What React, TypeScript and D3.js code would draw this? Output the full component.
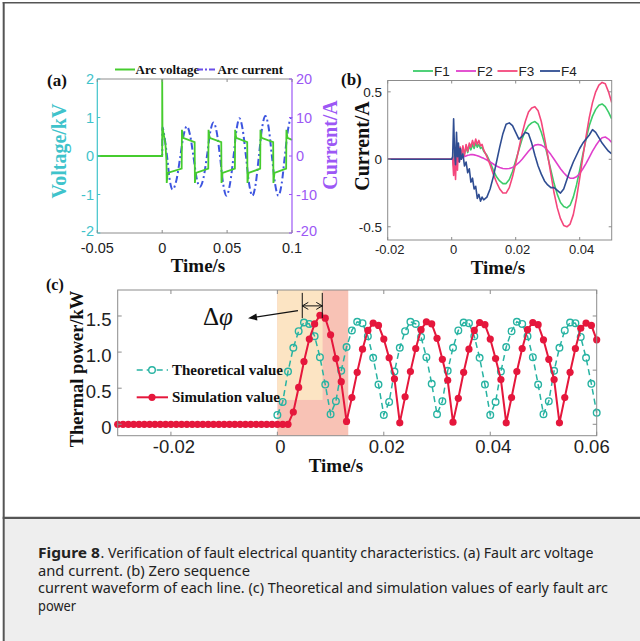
import React from "react";
import * as d3 from "d3";

const W = 640;
const H = 641;
const SERIF = "'Liberation Serif', 'Times New Roman', serif";
const SANS = "'Liberation Sans', Arial, sans-serif";
const CAPFONT = "'Noto Sans', 'Open Sans', sans-serif";

// ---------------- Panel (a) data ----------------
const A_X_TICKS = [-0.05, 0, 0.05, 0.1];
const A_X_LABELS = ["-0.05", "0", "0.05", "0.1"];
const A_VL_TICKS = [-2, -1, 0, 1, 2];
const A_IR_TICKS = [-20, -10, 0, 10, 20];
// arc voltage (ms, kV)
const A_VOLT_T = [-50, 0, 0, 0.2, 2.5, 3.3, 3.5, 4.2, 15.0, 15.2, 16.0, 25.0, 25.2, 26.0, 35.5, 35.7, 36.5, 45.5, 45.7, 46.5, 56.0, 56.2, 57.0, 65.5, 65.7, 66.5, 75.5, 75.7, 76.5, 85.5, 85.7, 86.5, 95.5, 95.7, 96.5, 100];
const A_VOLT_V = [0, 0, 2.0, 0.75, 0.3, -0.15, -0.7, -0.44, -0.33, 0.68, 0.47, 0.36, -0.7, -0.44, -0.33, 0.68, 0.47, 0.36, -0.7, -0.44, -0.33, 0.68, 0.47, 0.36, -0.7, -0.44, -0.33, 0.68, 0.47, 0.36, -0.7, -0.44, -0.33, 0.68, 0.47, 0.42];
// arc current (ms, A)
const A_CURR_T = [-50, 0, 0.2, 1.5, 3.7, 5.8, 8, 11, 14, 16.5, 19, 21.5, 24, 26.5, 29, 31.8, 34.5, 37, 39.5, 42, 44.5, 47, 49.5, 52.2, 55, 57.3, 59.5, 62, 64.5, 67, 69.5, 72, 74.5, 77, 79.5, 82, 84.5, 87, 89.5, 92, 94.5, 97, 99.5, 100];
const A_CURR_V = [0, 0, 7.5, 5.5, 0, -6.2, -8.7, -6.2, 0, 5.4, 7.7, 5.4, 0, -5.7, -8.0, -5.7, 0, 6.2, 8.7, 6.2, 0, -7.3, -10.3, -7.3, 0, 6.9, 9.8, 6.9, 0, -7.3, -10.3, -7.3, 0, 7.4, 10.4, 7.4, 0, -7.3, -10.3, -7.3, 0, 7.0, 9.9, 9.8];

// ---------------- Panel (b) data ----------------
const B_X_TICKS = [-0.02, 0, 0.02, 0.04];
const B_X_LABELS = ["-0.02", "0", "0.02", "0.04"];
const B_Y_TICKS = [-0.5, 0, 0.5];
const B_Y_LABELS = ["-0.5", "0", "0.5"];
const B_NAMES = ["F1", "F2", "F3", "F4"];
const B_COLORS = ["#3dcc6a", "#e040cc", "#f4477c", "#2f4d92"];
const B_T_MS = [-20, 0, 0.3, 0.6, 0.9, 1.2, 1.5, 1.8, 2.1, 2.4, 2.7, 3.0, 3.5, 4, 4.5, 5, 5.5, 6, 6.5, 7, 7.5, 8, 8.5, 9, 9.5, 10,
  11, 12, 13, 14, 15, 16, 17, 18, 19, 20, 21, 22, 23, 24, 25, 26, 27, 28, 29, 30, 31, 32, 33, 34, 35, 36, 37, 38, 39, 40, 41, 42, 43, 44, 45, 46, 47, 48, 49, 50];
const F1 = [0, 0, 0.0, -0.05, 0.06, -0.03, 0.08, 0.0, 0.09, 0.02, 0.08, 0.03, 0.08, 0.04, 0.09, 0.05, 0.1, 0.07, 0.11, 0.08, 0.12, 0.09, 0.11, 0.08, 0.09, 0.06,
  0.03, -0.02, -0.08, -0.13, -0.16, -0.18, -0.18, -0.15, -0.09, -0.01, 0.07, 0.15, 0.21, 0.25, 0.27, 0.28, 0.26, 0.20, 0.12, 0.02, -0.08, -0.18, -0.26, -0.32, -0.35, -0.36, -0.34, -0.28, -0.19, -0.08, 0.04, 0.15, 0.25, 0.32, 0.37, 0.40, 0.41, 0.39, 0.35, 0.30];
const F2 = [0, 0, 0.0, -0.03, 0.02, -0.02, 0.01, -0.01, 0.01, 0.0, 0.01, 0.01, 0.015, 0.02, 0.025, 0.03, 0.032, 0.035, 0.035, 0.033, 0.03, 0.027, 0.022, 0.017, 0.012, 0.007,
  -0.005, -0.02, -0.035, -0.05, -0.06, -0.068, -0.07, -0.068, -0.06, -0.045, -0.025, 0.0, 0.03, 0.06, 0.085, 0.105, 0.11, 0.105, 0.09, 0.065, 0.035, 0.0, -0.035, -0.07, -0.1, -0.125, -0.14, -0.14, -0.13, -0.105, -0.07, -0.03, 0.015, 0.06, 0.1, 0.135, 0.16, 0.165, 0.15, 0.125];
const F3 = [0, 0, 0.0, -0.12, 0.05, -0.15, 0.07, -0.08, 0.10, -0.02, 0.09, 0.0, 0.10, 0.03, 0.11, 0.06, 0.12, 0.09, 0.14, 0.10, 0.15, 0.11, 0.14, 0.10, 0.11, 0.07,
  0.02, -0.04, -0.11, -0.17, -0.22, -0.25, -0.25, -0.21, -0.13, -0.03, 0.08, 0.19, 0.28, 0.35, 0.38, 0.39, 0.36, 0.28, 0.16, 0.03, -0.11, -0.25, -0.36, -0.44, -0.49, -0.50, -0.48, -0.41, -0.29, -0.14, 0.02, 0.17, 0.31, 0.42, 0.50, 0.55, 0.57, 0.56, 0.50, 0.42];
const F4 = [0, 0, 0.02, 0.30, 0.05, -0.04, 0.20, 0.02, 0.12, -0.02, 0.08, 0.0, 0.04, -0.05, -0.02, -0.10, -0.07, -0.17, -0.14, -0.22, -0.20, -0.29, -0.26, -0.31, -0.28, -0.30,
  -0.28, -0.22, -0.13, -0.02, 0.09, 0.19, 0.26, 0.27, 0.25, 0.20, 0.15, 0.17, 0.20, 0.19, 0.12, 0.03, -0.05, -0.11, -0.16, -0.19, -0.21, -0.21, -0.23, -0.25, -0.22, -0.15, -0.08, -0.02, 0.03, 0.08, 0.12, 0.15, 0.18, 0.22, 0.20, 0.16, 0.12, 0.09, 0.06, 0.04];
const B_SERIES = [F1, F2, F3, F4];

// ---------------- Panel (c) data ----------------
const C_X_TICKS = [-0.02, 0, 0.02, 0.04, 0.06];
const C_X_LABELS = ["-0.02", "0", "0.02", "0.04", "0.06"];
const C_Y_TICKS = [0, 0.5, 1.0, 1.5];
const C_Y_LABELS = ["0", "0.5", "1.0", "1.5"];
const C_YR_TICKS = [0, 0.75, 1.5];
const SAMPLE_MS = 1;
const SIM_START_MS = -30;
const SIM_POWER = [
  0, 0, 0, 0, 0, 0, 0, 0, 0, 0, 0, 0, 0, 0, 0, 0, 0, 0, 0, 0, 0, 0, 0, 0, 0, 0, 0, 0, 0, 0, 0, 0, 0,
  0.17, 0.51, 0.87, 1.18, 1.39, 1.51, 1.47, 1.24, 0.91, 0.59,
  0.04, 0.37, 0.72, 1.04, 1.30, 1.40, 1.37, 1.18, 0.92, 0.63,
  0.02, 0.38, 0.73, 1.05, 1.31, 1.42, 1.39, 1.19, 0.90, 0.61,
  0.03, 0.36, 0.72, 1.04, 1.30, 1.41, 1.38, 1.18, 0.91, 0.62,
  0.02, 0.37, 0.73, 1.05, 1.31, 1.41, 1.38, 1.17, 0.90, 0.62,
  0.02, 0.37, 0.72, 1.05, 1.33, 1.40, 1.37, 1.17];
const THEO_START_MS = 0;
const THEO_POWER = [
  0.13, 0.31, 0.73, 1.06, 1.29, 1.41, 1.39, 1.22, 0.93, 0.55,
  0.14, 0.32, 0.74, 1.07, 1.30, 1.42, 1.40, 1.22, 0.92, 0.55,
  0.13, 0.31, 0.73, 1.06, 1.29, 1.42, 1.39, 1.21, 0.93, 0.56,
  0.14, 0.32, 0.74, 1.06, 1.30, 1.41, 1.40, 1.22, 0.92, 0.55,
  0.13, 0.31, 0.73, 1.07, 1.29, 1.42, 1.39, 1.22, 0.93, 0.55,
  0.14, 0.32, 0.74, 1.06, 1.30, 1.41, 1.40, 1.21, 0.92, 0.56,
  0.16];

const CAPTION_BOLD = "Figure 8";
const CAPTION_LINES = [
  ". Verification of fault electrical quantity characteristics. (a) Fault arc voltage",
  "and current. (b) Zero sequence",
  "current waveform of each line. (c) Theoretical and simulation values of early fault arc",
  "power",
];
const CAPTION_WIDTHS = [493, 212, 570, 38];

// ---------------- colours ----------------
const CYAN = "#3fc3cb";
const PURPLE = "#9c58f5";
const GREEN_A = "#46cc2e";
const BLUE_A = "#3d55e0";
const TEAL = "#27b3a2";
const RED = "#e5173c";
const BOX = "#8c8c8c";

function PanelA() {
  const L = 97.3, R = 292, T = 79, B = 233;
  const x = d3.scaleLinear().domain([-0.05, 0.1]).range([L, R]);
  const yl = d3.scaleLinear().domain([-2, 2]).range([B, T]);
  const yr = d3.scaleLinear().domain([-20, 20]).range([B, T]);
  const volt = A_VOLT_T.map((t, i) => [t / 1000, A_VOLT_V[i]] as [number, number]);
  const curr = A_CURR_T.map((t, i) => [t / 1000, A_CURR_V[i]] as [number, number]);
  const lineV = d3.line<[number, number]>().x(d => x(d[0])).y(d => yl(d[1]));
  const lineI = d3.line<[number, number]>().x(d => x(d[0])).y(d => yr(d[1])).curve(d3.curveMonotoneX);
  const tk = 3;
  return (
    <g>
      <rect x={L} y={T} width={R - L} height={B - T} fill="#fff" />
      <path d={lineI(curr) || ""} fill="none" stroke={BLUE_A} strokeWidth={2} strokeDasharray="7,3,2,3" />
      <path d={lineV(volt) || ""} fill="none" stroke={GREEN_A} strokeWidth={1.8} />
      <line x1={L} x2={R} y1={T} y2={T} stroke={BOX} strokeWidth={1} />
      <line x1={L} x2={R} y1={B} y2={B} stroke={BOX} strokeWidth={1} />
      <line x1={L} x2={L} y1={T} y2={B} stroke={CYAN} strokeWidth={1.2} />
      <line x1={R} x2={R} y1={T} y2={B} stroke={PURPLE} strokeWidth={1.2} />
      {A_X_TICKS.map((v, i) => (
        <g key={"ax" + i}>
          <line x1={x(v)} x2={x(v)} y1={B} y2={B - tk} stroke={BOX} />
          <line x1={x(v)} x2={x(v)} y1={T} y2={T + tk} stroke={BOX} />
          <text x={x(v)} y={252.5} textAnchor="middle" fontFamily={SANS} fontSize={14.5} fill="#222">{A_X_LABELS[i]}</text>
        </g>
      ))}
      {A_VL_TICKS.map((v, i) => (
        <g key={"al" + i}>
          <line x1={L} x2={L + tk} y1={yl(v)} y2={yl(v)} stroke={CYAN} />
          <text x={94} y={yl(v) + (v === -2 ? 3 : 5)} textAnchor="end" fontFamily={SANS} fontSize={14.5} fill={CYAN}>{v}</text>
        </g>
      ))}
      {A_IR_TICKS.map((v, i) => (
        <g key={"ar" + i}>
          <line x1={R} x2={R - tk} y1={yr(v)} y2={yr(v)} stroke={PURPLE} />
          <text x={296} y={yr(v) + (v === -20 ? 3 : 5)} textAnchor="start" fontFamily={SANS} fontSize={14.5} fill={PURPLE}>{v}</text>
        </g>
      ))}
      <line x1={115} x2={135} y1={69.5} y2={69.5} stroke={GREEN_A} strokeWidth={2} />
      <text x={135.5} y={73.5} fontFamily={SERIF} fontWeight="bold" fontSize={13} fill="#111">Arc voltage</text>
      <line x1={197} x2={217} y1={69.5} y2={69.5} stroke="#6a4fe8" strokeWidth={2} strokeDasharray="6,2,2,2" />
      <text x={217.5} y={73.5} fontFamily={SERIF} fontWeight="bold" fontSize={13} fill="#111">Arc current</text>
      <text x={47} y={86} fontFamily={SERIF} fontWeight="bold" fontSize={17} fill="#111">(a)</text>
      <text transform="translate(66,151) rotate(-90)" textAnchor="middle" fontFamily={SERIF} fontWeight="bold" fontSize={20} fill={CYAN}>Voltage/kV</text>
      <text transform="translate(337,145) rotate(-90)" textAnchor="middle" fontFamily={SERIF} fontWeight="bold" fontSize={20} fill={PURPLE}>Current/A</text>
      <text x={198} y={272} textAnchor="middle" fontFamily={SERIF} fontWeight="bold" fontSize={19} fill="#111">Time/s</text>
    </g>
  );
}

function PanelB() {
  const L = 387.7, R = 611.7, T = 80.5, B = 240;
  const x = d3.scaleLinear().domain([-0.02, 0.05]).range([L, R]);
  const y = d3.scaleLinear().domain([-0.598, 0.584]).range([B, T]);
  const line = d3.line<[number, number]>().x(d => x(d[0])).y(d => y(d[1]));
  const tk = 3;
  const legX = [413, 456, 497.5, 540];
  return (
    <g>
      <rect x={L} y={T} width={R - L} height={B - T} fill="#fff" />
      <defs>
        <clipPath id="clipB"><rect x={L} y={T - 2} width={R - L} height={B - T + 4} /></clipPath>
      </defs>
      <g clipPath="url(#clipB)">
        {B_SERIES.map((s, k) => (
          <path key={k} d={line(B_T_MS.map((t, i) => [t / 1000, s[i]] as [number, number])) || ""} fill="none" stroke={B_COLORS[k]} strokeWidth={1.6} strokeLinejoin="round" />
        ))}
      </g>
      <rect x={L} y={T} width={R - L} height={B - T} fill="none" stroke={BOX} strokeWidth={1} />
      {B_X_TICKS.map((v, i) => (
        <g key={"bx" + i}>
          <line x1={x(v)} x2={x(v)} y1={B} y2={B - tk} stroke={BOX} />
          <line x1={x(v)} x2={x(v)} y1={T} y2={T + tk} stroke={BOX} />
          <text x={x(v) + 2} y={253.5} textAnchor="middle" fontFamily={SANS} fontSize={13} fill="#222">{B_X_LABELS[i]}</text>
        </g>
      ))}
      {B_Y_TICKS.map((v, i) => (
        <g key={"by" + i}>
          <line x1={L} x2={L + tk} y1={y(v)} y2={y(v)} stroke={BOX} />
          <line x1={R} x2={R - tk} y1={y(v)} y2={y(v)} stroke={BOX} />
          <text x={382} y={y(v) + 5} textAnchor="end" fontFamily={SANS} fontSize={13.5} fill="#222">{B_Y_LABELS[i]}</text>
        </g>
      ))}
      {B_NAMES.map((n, k) => (
        <g key={"bl" + k}>
          <line x1={legX[k]} x2={legX[k] + 20} y1={71} y2={71} stroke={B_COLORS[k]} strokeWidth={1.8} />
          <text x={legX[k] + 21} y={76} fontFamily={SANS} fontSize={13.5} fill="#222">{n}</text>
        </g>
      ))}
      <text x={341} y={85} fontFamily={SERIF} fontWeight="bold" fontSize={17} fill="#111">(b)</text>
      <text transform="translate(369,146) rotate(-90)" textAnchor="middle" fontFamily={SERIF} fontWeight="bold" fontSize={20} fill="#111">Current/A</text>
      <text x={498} y={274} textAnchor="middle" fontFamily={SERIF} fontWeight="bold" fontSize={19} fill="#111">Time/s</text>
    </g>
  );
}

function PanelC() {
  const L = 117.7, R = 596.7, T = 290, B = 435.7;
  const x = d3.scaleLinear().domain([-0.03, 0.06]).range([L, R]);
  const y = d3.scaleLinear().domain([-0.158, 1.86]).range([B, T]);
  const sim = SIM_POWER.map((v, i) => [(SIM_START_MS + i * SAMPLE_MS) / 1000, v] as [number, number]);
  const theo = THEO_POWER.map((v, i) => [(THEO_START_MS + i * SAMPLE_MS) / 1000, v] as [number, number]);
  const line = d3.line<[number, number]>().x(d => x(d[0])).y(d => y(d[1]));
  const tk = 4;
  const tTheoPk = 0.00468, tSimPk = 0.00844;
  const arrowTail: [number, number] = [0.00387, 1.573];
  const arrowHead: [number, number] = [-0.00552, 1.468];
  const hx = x(arrowHead[0]), hy = y(arrowHead[1]);
  const tx = x(arrowTail[0]), ty = y(arrowTail[1]);
  const ang = Math.atan2(ty - hy, tx - hx);
  const ah = 9, aw = 3.5;
  const p1 = [hx + ah * Math.cos(ang) - aw * Math.sin(ang), hy + ah * Math.sin(ang) + aw * Math.cos(ang)];
  const p2 = [hx + ah * Math.cos(ang) + aw * Math.sin(ang), hy + ah * Math.sin(ang) - aw * Math.cos(ang)];
  const yA = y(1.64);
  const xa = x(tTheoPk), xb = x(tSimPk);
  return (
    <g>
      <rect x={L} y={T} width={R - L} height={B - T} fill="#fff" />
      <rect x={x(0)} y={T} width={x(0.01332) - x(0)} height={B - T} fill="#f8c2b5" />
      <rect x={x(0)} y={T} width={x(0.0085) - x(0)} height={y(0.337) - T} fill="#fce4c3" />
      <path d={line(theo) || ""} fill="none" stroke={TEAL} strokeWidth={1.5} strokeDasharray="6,4" />
      {theo.map((d, i) => (
        <circle key={"th" + i} cx={x(d[0])} cy={y(d[1])} r={3.3} fill="none" stroke={TEAL} strokeWidth={1.4} />
      ))}
      <path d={line(sim) || ""} fill="none" stroke={RED} strokeWidth={2} />
      {sim.map((d, i) => (
        <circle key={"si" + i} cx={x(d[0])} cy={y(d[1])} r={3.6} fill={RED} />
      ))}
      <rect x={L} y={T} width={R - L} height={B - T} fill="none" stroke={BOX} strokeWidth={1} />
      {C_X_TICKS.map((v, i) => (
        <g key={"cx" + i}>
          <line x1={x(v)} x2={x(v)} y1={B} y2={B - tk} stroke={BOX} />
          <line x1={x(v)} x2={x(v)} y1={T} y2={T + tk} stroke={BOX} />
          <text x={i === C_X_TICKS.length - 1 ? x(v) - 5 : x(v) + 3} y={453} textAnchor="middle" fontFamily={SANS} fontSize={18.5} fill="#222">{C_X_LABELS[i]}</text>
        </g>
      ))}
      {C_Y_TICKS.map((v, i) => (
        <g key={"cy" + i}>
          <line x1={L} x2={L + tk} y1={y(v)} y2={y(v)} stroke={BOX} />
          <text x={111.5} y={y(v) + 10} textAnchor="end" fontFamily={SANS} fontSize={18.5} fill="#222">{C_Y_LABELS[i]}</text>
        </g>
      ))}
      {C_YR_TICKS.map((v, i) => (
        <line key={"cyr" + i} x1={R} x2={R - tk} y1={y(v)} y2={y(v)} stroke={BOX} />
      ))}
      <line x1={xa} x2={xa} y1={y(1.82)} y2={y(1.47)} stroke="#111" strokeWidth={1} />
      <line x1={xb} x2={xb} y1={y(1.82)} y2={y(1.47)} stroke="#111" strokeWidth={1} />
      <line x1={xa} x2={xb} y1={yA} y2={yA} stroke="#111" strokeWidth={1} />
      <path d={`M${xa + 6},${yA - 3.5} L${xa},${yA} L${xa + 6},${yA + 3.5}`} fill="none" stroke="#111" strokeWidth={1} />
      <path d={`M${xb - 6},${yA - 3.5} L${xb},${yA} L${xb - 6},${yA + 3.5}`} fill="none" stroke="#111" strokeWidth={1} />
      <line x1={tx} y1={ty} x2={hx + 6 * Math.cos(ang)} y2={hy + 6 * Math.sin(ang)} stroke="#111" strokeWidth={1.3} />
      <polygon points={`${hx},${hy} ${p1[0]},${p1[1]} ${p2[0]},${p2[1]}`} fill="#111" />
      <text x={x(-0.01398)} y={y(1.375)} fontFamily={SERIF} fontSize={25} fill="#111">Δ<tspan fontStyle="italic">φ</tspan></text>
      <line x1={136.7} x2={168} y1={370} y2={370} stroke={TEAL} strokeWidth={1.5} strokeDasharray="6,4" />
      <circle cx={152} cy={370} r={3.3} fill="#fff" stroke={TEAL} strokeWidth={1.4} />
      <text x={172} y={375} fontFamily={SERIF} fontWeight="bold" fontSize={15} fill="#111">Theoretical value</text>
      <line x1={136.7} x2={168} y1={397.3} y2={397.3} stroke={RED} strokeWidth={2} />
      <circle cx={152} cy={397.3} r={3.6} fill={RED} />
      <text x={172} y={402.3} fontFamily={SERIF} fontWeight="bold" fontSize={15} fill="#111">Simulation value</text>
      <text x={46} y={290} fontFamily={SERIF} fontWeight="bold" fontSize={16} fill="#111">(c)</text>
      <text transform="translate(83,369) rotate(-90)" textAnchor="middle" fontFamily={SERIF} fontWeight="bold" fontSize={18.5} fill="#111">Thermal power/kW</text>
      <text x={336} y={472} textAnchor="middle" fontFamily={SERIF} fontWeight="bold" fontSize={19} fill="#111">Time/s</text>
    </g>
  );
}

export default function App() {
  const baselines = [558, 575.5, 593, 610.5];
  return (
    <svg width={W} height={H} viewBox={`0 0 ${W} ${H}`} style={{ position: "absolute", left: 0, top: 0, background: "#fff" }}>
      <rect x={0} y={0} width={W} height={H} fill="#fff" />
      <rect x={4.5} y={518.5} width={W} height={H - 518.5} fill="#eeeeee" />
      <line x1={3.7} x2={3.7} y1={2} y2={H} stroke="#555" strokeWidth={2} />
      <line x1={2.7} x2={W} y1={2.7} y2={2.7} stroke="#555" strokeWidth={1.6} />
      <line x1={2.7} x2={W} y1={517.8} y2={517.8} stroke="#555" strokeWidth={2.2} />
      <PanelA />
      <PanelB />
      <PanelC />
      <text x={38} y={baselines[0]} fontFamily={CAPFONT} fontWeight="bold" fontSize={14} fill="#222" textLength={62} lengthAdjust="spacingAndGlyphs">{CAPTION_BOLD}</text>
      {CAPTION_LINES.map((c, i) => (
        <text key={"cap" + i} x={i === 0 ? 100.5 : 38} y={baselines[i]} fontFamily={CAPFONT} fontSize={14} fill="#222" textLength={CAPTION_WIDTHS[i]} lengthAdjust="spacingAndGlyphs">{c}</text>
      ))}
    </svg>
  );
}
